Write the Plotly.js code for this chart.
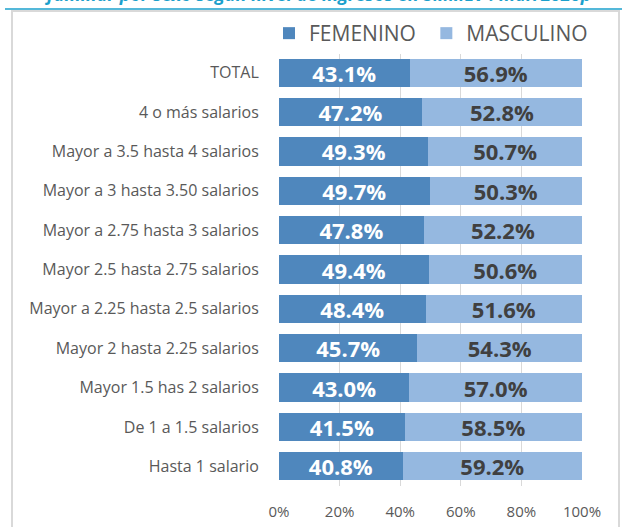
<!DOCTYPE html>
<html>
<head>
<meta charset="utf-8">
<script src="https://cdn.plot.ly/plotly-3.0.1.min.js"></script>
<style>html,body{margin:0;padding:0;background:#fff;}#chart{width:622px;height:527px;}</style>
</head>
<body>
<div id="chart"></div>
<script>
const categories = [
  "TOTAL",
  "4 o más salarios",
  "Mayor a 3.5 hasta 4 salarios",
  "Mayor a 3 hasta 3.50 salarios",
  "Mayor a 2.75 hasta 3 salarios",
  "Mayor 2.5 hasta 2.75 salarios",
  "Mayor a 2.25 hasta 2.5 salarios",
  "Mayor 2 hasta 2.25 salarios",
  "Mayor 1.5 has 2 salarios",
  "De 1 a 1.5 salarios",
  "Hasta 1 salario"
];
const femenino = [43.1, 47.2, 49.3, 49.7, 47.8, 49.4, 48.4, 45.7, 43.0, 41.5, 40.8];
const masculino = [56.9, 52.8, 50.7, 50.3, 52.2, 50.6, 51.6, 54.3, 57.0, 58.5, 59.2];
const xTickVals = [0, 20, 40, 60, 80, 100];
const titleText = "familiar por sexo según nivel de ingresos en SMMLV . mar/2020p";

// pixel helpers for paper coords
const L = 279, R = 582, T = 53, B = 486;
const px = x => (x - L) / (R - L);
const py = y => (B - y) / (B - T);

const font = "'Open Sans', 'DejaVu Sans', sans-serif";

const traces = [
  {
    type: 'bar', orientation: 'h', name: 'FEMENINO\u00a0',
    y: categories, x: femenino,
    marker: {color: '#4f87bd'},
    texttemplate: '%{x:.1f}%', textposition: 'inside', insidetextanchor: 'middle',
    constraintext: 'none',
    textfont: {family: font, size: 22, color: '#ffffff', weight: 'bold'},
    hoverinfo: 'none'
  },
  {
    type: 'bar', orientation: 'h', name: 'MASCULINO',
    y: categories, x: masculino,
    marker: {color: '#95b8e0'},
    texttemplate: '%{x:.1f}%', textposition: 'inside', insidetextanchor: 'middle',
    constraintext: 'none',
    textfont: {family: font, size: 22, color: '#404040', weight: 'bold'},
    hoverinfo: 'none'
  }
];

const layout = {
  width: 622, height: 527,
  margin: {l: L, r: 622 - R, t: T, b: 527 - B, pad: 0},
  barmode: 'stack', bargap: 0.28,
  uniformtext: {mode: false},
  paper_bgcolor: '#ffffff', plot_bgcolor: '#ffffff',
  font: {family: font, color: '#595959'},
  showlegend: true,
  legend: {
    orientation: 'h', x: px(269), xanchor: 'left', y: py(13), yanchor: 'top',
    font: {family: font, size: 21, color: '#595959'},
    traceorder: 'normal', itemwidth: 30
  },
  xaxis: {
    range: [0, 100], tickvals: xTickVals, ticktext: xTickVals.map(v => v + '%'),
    showgrid: true, gridcolor: '#d9d9d9', gridwidth: 1,
    zeroline: false, showline: false,
    ticks: 'outside', ticklen: 12, tickcolor: 'rgba(0,0,0,0)',
    tickfont: {family: font, size: 15, color: '#595959'},
    fixedrange: true
  },
  yaxis: {
    type: 'category', autorange: 'reversed',
    showgrid: false, zeroline: false, showline: false,
    ticks: 'outside', ticklen: 16, tickcolor: 'rgba(0,0,0,0)',
    tickfont: {family: font, size: 16, color: '#595959'},
    fixedrange: true
  },
  shapes: [
    {type: 'line', xref: 'paper', yref: 'paper', x0: px(5), x1: px(622), y0: py(9), y1: py(9),
     line: {color: '#1ba0cc', width: 1.5}},
    {type: 'rect', xref: 'paper', yref: 'paper', x0: px(12), x1: px(619), y0: py(11), y1: py(540),
     line: {color: '#d9d9d9', width: 2}, fillcolor: 'rgba(0,0,0,0)'}
  ],
  annotations: [
    {xref: 'paper', yref: 'paper', x: px(318), y: py(-6), xanchor: 'center', yanchor: 'middle',
     text: '<i>' + titleText + '</i>', showarrow: false,
     font: {family: font, size: 18, color: '#1ba0cc', weight: 'bold'}}
  ]
};

Plotly.newPlot('chart', traces, layout, {displayModeBar: false, staticPlot: true});
</script>
</body>
</html>
